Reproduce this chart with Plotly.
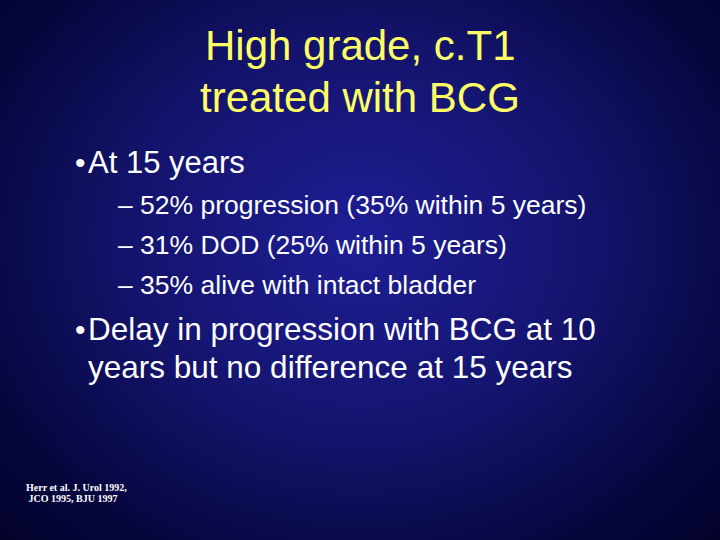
import numpy as np
import plotly.graph_objects as go

title_lines = ["High grade, c.T1", "treated with BCG"]
bullet1 = "At 15 years"
sub_items = ["– 52% progression (35% within 5 years)",
             "– 31% DOD (25% within 5 years)",
             "– 35% alive with intact bladder"]
bullet2_lines = ["Delay in progression with BCG at 10", "years but no difference at 15 years"]
citation_lines = ["Herr et al. J. Urol 1992,", " JCO 1995, BJU 1997"]

W, H = 720, 540
gx = np.linspace(0, W, 145)
gy = np.linspace(0, H, 109)
X, Y = np.meshgrid(gx, gy)
R = np.sqrt(((X - 360) / 470) ** 2 + ((Y - 240) / 400) ** 2)

fig = go.Figure(go.Heatmap(x=gx, y=gy, z=R, zsmooth="best", showscale=False, hoverinfo="skip",
                           colorscale=[[0, "#1e1e96"], [0.45, "#14146e"], [0.8, "#06063e"], [1, "#02022a"]]))

def px(x, y, text, size, color="white", xanchor="left", family="Liberation Sans, Arial", bold=False):
    fig.add_annotation(x=x, y=y, xref="x", yref="y", text=("<b>%s</b>" % text) if bold else text,
                       showarrow=False, xanchor=xanchor, yanchor="middle",
                       font=dict(size=size, color=color, family=family))

for i, t in enumerate(title_lines):
    px(360, 45 + 52 * i, t, 42, color="#ffff66", xanchor="center")
px(80, 162, "•", 30, xanchor="center")
px(86, 162, bullet1, 31)
for i, t in enumerate(sub_items):
    px(116, 205 + 40 * i, t, 26.5)
px(80, 329, "•", 30, xanchor="center")
for i, t in enumerate(bullet2_lines):
    px(86, 329 + 38 * i, t, 31.5)
for i, t in enumerate(citation_lines):
    px(24, 487 + 11 * i, t, 10, family="Liberation Serif, Times New Roman", bold=True)

fig.update_layout(width=W, height=H, margin=dict(l=0, r=0, t=0, b=0),
                  paper_bgcolor="#02022a", plot_bgcolor="#02022a",
                  xaxis=dict(range=[0, W], visible=False, fixedrange=True),
                  yaxis=dict(range=[H, 0], visible=False, fixedrange=True),
                  showlegend=False)
fig.write_html("out.html", config={"displayModeBar": False},
               post_script="document.body.style.margin='0';document.body.style.overflow='hidden';document.body.style.background='#02022a';")
